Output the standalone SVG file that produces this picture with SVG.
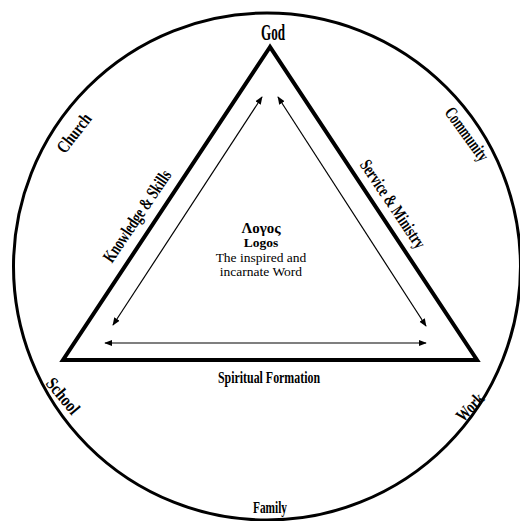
<svg xmlns="http://www.w3.org/2000/svg" width="520" height="521" viewBox="0 0 520 521">
<style>
.lbl{font-family:"Liberation Serif","Times New Roman",serif;font-weight:bold;fill:#000;text-anchor:middle}
.ctr{font-family:"Liberation Serif","Times New Roman",serif;fill:#000;text-anchor:middle}
.arr{stroke:#000;stroke-width:1.2;fill:none;marker-start:url(#ah);marker-end:url(#ah)}
</style>
<defs>
<marker id="ah" viewBox="0 0 10 10" refX="9" refY="5" markerWidth="8" markerHeight="8" markerUnits="userSpaceOnUse" orient="auto-start-reverse">
<path d="M0,1 L10,5 L0,9 Z" fill="#000"/>
</marker>
</defs>
<rect width="520" height="521" fill="#fff"/>
<g id="circle"><circle cx="267" cy="266.5" r="253.5" fill="none" stroke="#000" stroke-width="3"/></g>
<g id="triangle"><polygon points="270,47 63,360 477,360" fill="none" stroke="#000" stroke-width="4" stroke-linejoin="miter"/></g>
<g id="connectors">
<line class="arr" x1="113" y1="325" x2="262" y2="97"/>
<line class="arr" x1="278" y1="97" x2="426" y2="326"/>
<line class="arr" x1="105" y1="343" x2="426" y2="343"/>
</g>
<g id="god"><text class="lbl" x="273" y="40" font-size="23" textLength="24" lengthAdjust="spacingAndGlyphs">God</text></g>
<g id="church"><text class="lbl" transform="translate(74,133) rotate(-52)" y="6" font-size="18" textLength="45" lengthAdjust="spacingAndGlyphs">Church</text></g>
<g id="community"><text class="lbl" transform="translate(467,134) rotate(54)" y="6" font-size="18" textLength="62" lengthAdjust="spacingAndGlyphs">Community</text></g>
<g id="school"><text class="lbl" transform="translate(63,396) rotate(50)" y="6" font-size="18" textLength="42" lengthAdjust="spacingAndGlyphs">School</text></g>
<g id="work"><text class="lbl" transform="translate(470,407) rotate(-46)" y="6" font-size="18" textLength="32" lengthAdjust="spacingAndGlyphs">Work</text></g>
<g id="family"><text class="lbl" x="270" y="513" font-size="16" textLength="34" lengthAdjust="spacingAndGlyphs">Family</text></g>
<g id="knowledge"><text class="lbl" transform="translate(137,216) rotate(-56)" y="6" font-size="18" textLength="107" lengthAdjust="spacingAndGlyphs">Knowledge &amp; Skills</text></g>
<g id="service"><text class="lbl" transform="translate(393,204) rotate(56)" y="6" font-size="18" textLength="103" lengthAdjust="spacingAndGlyphs">Service &amp; Ministry</text></g>
<g id="spiritual"><text class="lbl" x="269" y="383" font-size="16" textLength="102" lengthAdjust="spacingAndGlyphs">Spiritual Formation</text></g>
<g id="logos">
<text class="ctr" x="261" y="233" font-size="15" font-weight="bold">Λογος</text>
<text class="ctr" x="261" y="247" font-size="13.5" font-weight="bold">Logos</text>
<text class="ctr" x="261" y="262" font-size="13.5">The inspired and</text>
<text class="ctr" x="261" y="276" font-size="13.5">incarnate Word</text>
</g>
</svg>
